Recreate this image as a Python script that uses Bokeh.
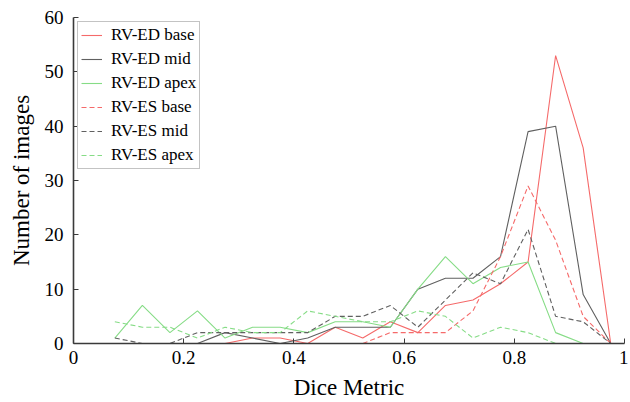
from bokeh.plotting import figure
from bokeh.models import FixedTicker
from bokeh.embed import file_html
from bokeh.resources import INLINE

# Bin centres of the Dice-metric histogram
bin_centers = [0.075, 0.125, 0.175, 0.225, 0.275, 0.325, 0.375, 0.425, 0.475,
               0.525, 0.575, 0.625, 0.675, 0.725, 0.775, 0.825, 0.875, 0.925, 0.975]

# Series (counts); some series start at a later bin
ed_base = [0, 1, 1, 0, 3, 1, 4, 2, 7, 8, 11, 15, 53, 36, 0]          # from 0.275
ed_mid = [0, 2, 1, 0, 1, 3, 3, 3, 10, 12, 12, 16, 39, 40, 9, 0]      # from 0.225
ed_apex = [1, 7, 2, 6, 1, 3, 3, 2, 4, 4, 3, 10, 16, 11, 14, 15, 2, 0, 0]
es_base = [0, 2, 2, 2, 6, 16, 29, 19, 5, 0]                          # from 0.525
es_mid = [1, 0, 0, 2, 2, 2, 2, 2, 5, 5, 7, 3, 8, 13, 11, 21, 5, 4, 0]
es_apex = [4, 3, 3, 1, 3, 2, 2, 6, 5, 4, 4, 6, 5, 1, 3, 2, 0, 0, 0]

x_ticks = [0, 0.2, 0.4, 0.6, 0.8, 1]
y_ticks = [0, 10, 20, 30, 40, 50, 60]

FONT = "Liberation Serif"

p = figure(width=628, height=402, x_range=(0, 1), y_range=(0, 60),
           output_backend="svg", toolbar_location=None,
           min_border_left=73, min_border_right=4, min_border_top=17,
           min_border_bottom=59)
p.outline_line_color = None
p.xgrid.visible = False
p.ygrid.visible = False

series = [
    (bin_centers[4:], ed_base, "#f56a6a", "solid", "RV-ED base"),
    (bin_centers[3:], ed_mid, "#606060", "solid", "RV-ED mid"),
    (bin_centers, ed_apex, "#86dc86", "solid", "RV-ED apex"),
    (bin_centers[9:], es_base, "#f56a6a", "5 3", "RV-ES base"),
    (bin_centers, es_mid, "#606060", "5 3", "RV-ES mid"),
    (bin_centers, es_apex, "#86dc86", "5 3", "RV-ES apex"),
]
for xs, ys, col, dash, lab in series:
    p.line(xs, ys, line_color=col, line_width=1.1, line_dash=dash, legend_label=lab)

for ax in (p.xaxis[0], p.yaxis[0]):
    ax.axis_line_color = "#3a3a3a"
    ax.axis_line_width = 1.6
    ax.major_tick_line_color = "#3a3a3a"
    ax.major_tick_in = 5
    ax.major_tick_out = 0
    ax.minor_tick_line_color = None
    ax.major_label_text_font = FONT
    ax.major_label_text_font_size = "19px"
    ax.major_label_text_color = "black"
    ax.axis_label_text_font = FONT
    ax.axis_label_text_font_size = "23px"
    ax.axis_label_text_font_style = "normal"
    ax.axis_label_text_color = "black"

p.xaxis.ticker = FixedTicker(ticks=x_ticks)
p.xaxis.major_label_overrides = {0: "0", 1: "1"}
p.yaxis.ticker = FixedTicker(ticks=y_ticks)
p.xaxis.axis_label = "Dice Metric"
p.yaxis.axis_label = "Number of images"
p.xaxis.major_label_standoff = 7
p.xaxis.axis_label_standoff = 8
p.yaxis.major_label_standoff = 10
p.yaxis.axis_label_standoff = 8

lg = p.legend[0]
lg.location = "top_left"
lg.margin = 4
lg.padding = 3
lg.spacing = 4
lg.glyph_width = 21
lg.glyph_height = 20
lg.label_height = 20
lg.label_standoff = 9
lg.label_text_font = FONT
lg.label_text_font_size = "17px"
lg.label_text_color = "black"
lg.border_line_color = "#888888"
lg.border_line_width = 1
lg.background_fill_color = "white"
lg.background_fill_alpha = 1

open("out.html", "w").write(file_html(p, INLINE))
